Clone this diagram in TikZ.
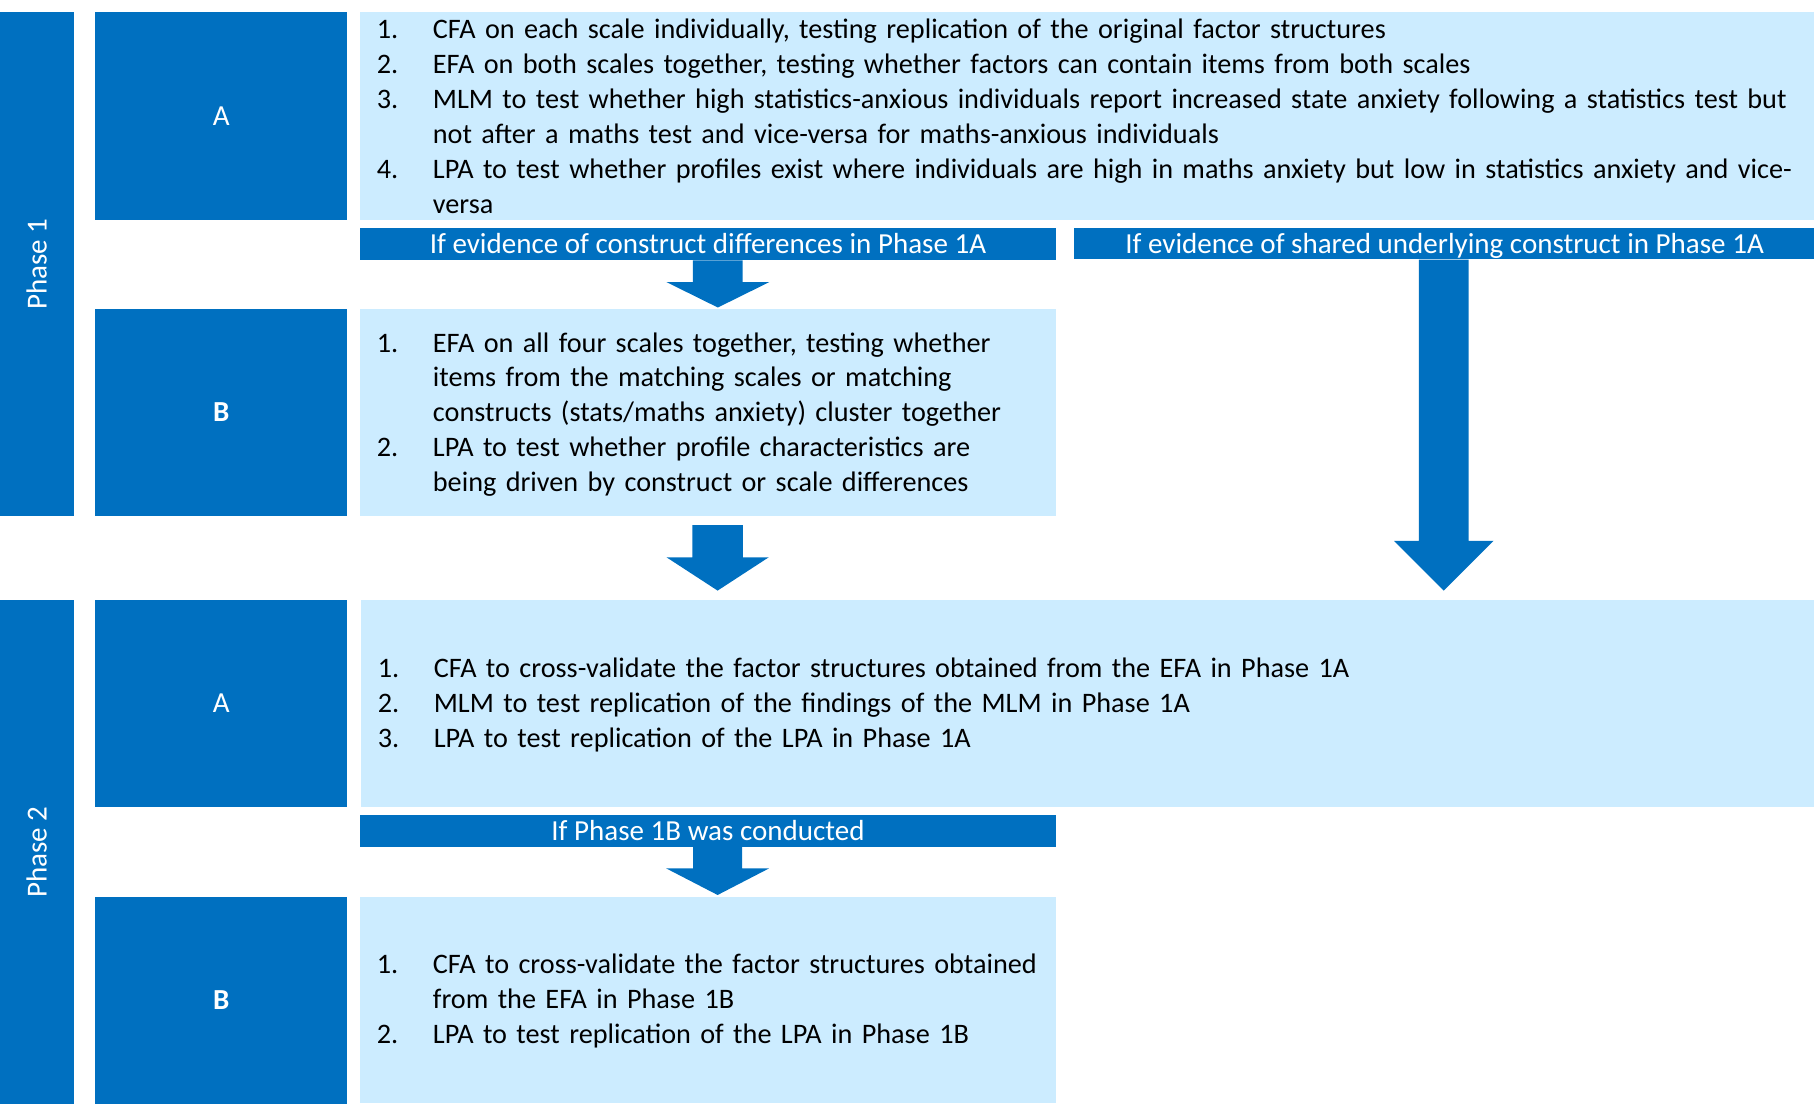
\documentclass[tikz,border=0pt]{standalone}
\usepackage{fontspec}
\setmainfont{Carlito}
\usetikzlibrary{calc}
\definecolor{dblue}{HTML}{0070C0}
\definecolor{lblue}{HTML}{CCECFF}
\newcommand{\itm}[2]{\par\noindent\hangindent=48.4pt\hangafter=1\makebox[48.4pt][l]{\strut#1}#2\strut\par}
\newcommand{\blockarrow}[5]{%
  \fill[dblue] ($(#1)+(-#3,0)$) -- ($(#1)+(#3,0)$) -- ($(#2)+(#3,-#5)$) -- ($(#2)+(#4,-#5)$)
    -- (#2) -- ($(#2)+(-#4,-#5)$) -- ($(#2)+(-#3,-#5)$) -- cycle;}
\begin{document}
\begin{tikzpicture}[x=1pt,y=-1pt,
  bodyfont/.style={font=\fontsize{24.4}{30.2}\selectfont},
  labfont/.style={font=\fontsize{25.1}{30.2}\selectfont},
  darkbox/.style={fill=dblue,draw=none,inner sep=0pt,anchor=north west,text=white,labfont,text height=16pt,text depth=0pt},
  lightbox/.style={fill=lblue,draw=none,inner sep=0pt,anchor=north west},
  listtext/.style={anchor=north west,inner sep=0pt,text width=1260pt,align=left,bodyfont,text=black},
  phaselabel/.style={rotate=90,text=white,labfont,inner sep=0pt,text height=16pt,text depth=0pt}
]
\useasboundingbox (0,0) rectangle (1568,954);
% phase bars
\node[darkbox,minimum width=64pt,minimum height=435.5pt] (ph1) at (0,10.3) {};
\node[darkbox,minimum width=64pt,minimum height=436pt] (ph2) at (0,518.5) {};
\node[phaselabel] at (ph1.center) {Phase 1};
\node[phaselabel] at (ph2.center) {Phase 2};
% letter boxes
\node[darkbox,minimum width=218pt,minimum height=180pt] (a1) at (82,10.3) {A};
\node[darkbox,minimum width=218pt,minimum height=178.5pt] (b1) at (82,267.2) {\bfseries B};
\node[darkbox,minimum width=218pt,minimum height=179pt] (a2) at (82,518.5) {A};
\node[darkbox,minimum width=218pt,minimum height=178.5pt] (b2) at (82,775.2) {\bfseries B};
% content boxes
\node[lightbox,minimum width=1258pt,minimum height=180pt] (t1a) at (311,10.3) {};
\node[lightbox,minimum width=601.5pt,minimum height=178.5pt] (t1b) at (311,267.2) {};
\node[lightbox,minimum width=1257pt,minimum height=179pt] (t2a) at (311.5,518.5) {};
\node[lightbox,minimum width=601.5pt,minimum height=178pt] (t2b) at (311,775.2) {};
% condition bars
\node[darkbox,minimum width=601.5pt,minimum height=27.4pt] (lab1) at (311,197.2) {If evidence of construct differences in Phase 1A};
\node[darkbox,minimum width=640pt,minimum height=26.8pt] (lab2) at (928.5,197.2) {If evidence of shared underlying construct in Phase 1A};
\node[darkbox,minimum width=601.5pt,minimum height=27.4pt] (lab3) at (311,704.4) {If Phase 1B was conducted};
% texts
\node[listtext] (x1a) at (325.6,2.9) {%
\itm{1.}{CFA on each scale individually, testing replication of the original factor structures}
\itm{2.}{EFA on both scales together, testing whether factors can contain items from both scales}
\itm{3.}{MLM to test whether high statistics-anxious individuals report increased state anxiety following a statistics test but\newline not after a maths test and vice-versa for maths-anxious individuals}
\itm{4.}{LPA to test whether profiles exist where individuals are high in maths anxiety but low in statistics anxiety and vice-\newline versa}};
\node[listtext] (x1b) at (325.6,273.9) {%
\itm{1.}{EFA on all four scales together, testing whether\newline items from the matching scales or matching\newline constructs (stats/maths anxiety) cluster together}
\itm{2.}{LPA to test whether profile characteristics are\newline being driven by construct or scale differences}};
\node[listtext] (x2a) at (326.4,555.3) {%
\itm{1.}{CFA to cross-validate the factor structures obtained from the EFA in Phase 1A}
\itm{2.}{MLM to test replication of the findings of the MLM in Phase 1A}
\itm{3.}{LPA to test replication of the LPA in Phase 1A}};
\node[listtext] (x2b) at (325.6,811.2) {%
\itm{1.}{CFA to cross-validate the factor structures obtained\newline from the EFA in Phase 1B}
\itm{2.}{LPA to test replication of the LPA in Phase 1B}};
% arrows
\coordinate (tip1) at (620.5,265.8);
\coordinate (st1) at (lab1.south -| tip1);
\blockarrow{st1}{tip1}{21.5}{44.5}{22}
\coordinate (tip2) at (620.3,510.5);
\coordinate (st2) at (620.3,453.8);
\blockarrow{st2}{tip2}{21.8}{44.2}{28.8}
\coordinate (tip3) at (1248,510.5);
\coordinate (st3) at (lab2.south -| tip3);
\blockarrow{st3}{tip3}{21.5}{43}{43}
\coordinate (tip4) at (620.3,773.6);
\coordinate (st4) at (lab3.south -| tip4);
\blockarrow{st4}{tip4}{21.2}{44.5}{23}
\end{tikzpicture}
\end{document}
